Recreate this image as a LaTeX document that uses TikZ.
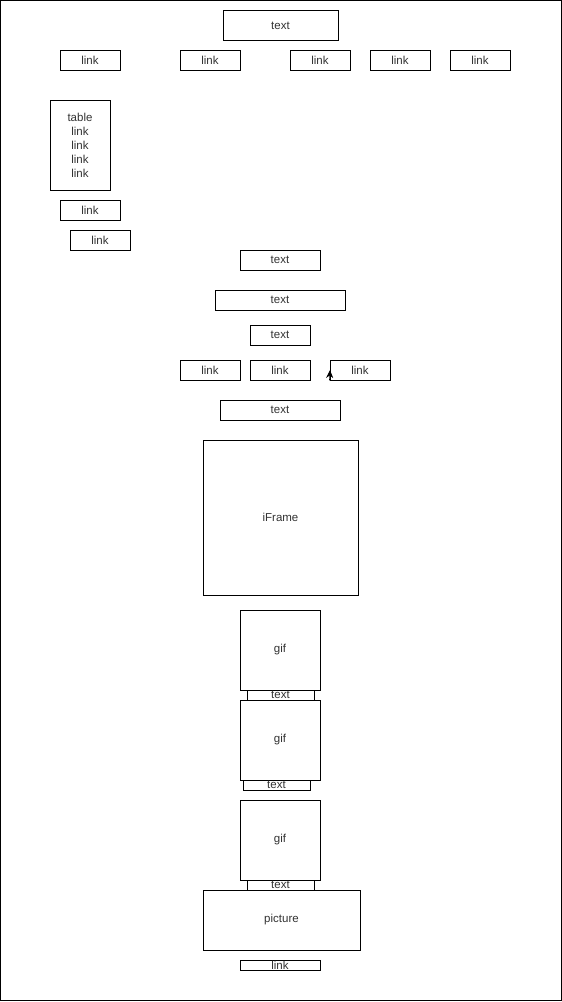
\documentclass[tikz,border=0pt]{standalone}
\usepackage{fontspec}
\setmainfont{Liberation Sans}
\usetikzlibrary{positioning, arrows.meta, calc}
\tikzset{
  mockup/.style={
	x=1pt, y=-1pt, % one unit per pixel, y grows downwards
	line width=0.8pt,
	>={Stealth[length=8pt, width=7pt]}, % small filled arrow head
  },
  box/.style={draw, fill=white, inner sep=0pt, font=\fontsize{11.5}{14}\selectfont, text=black!80, align=center}, % every element of the page
  linkbox/.style={box, minimum width=60pt, minimum height=20pt}, % the small link buttons
  gifbox/.style={box, minimum width=80pt, minimum height=80pt}, % animated pictures
  captionbox/.style={box, minimum width=67pt, minimum height=10pt}, % caption under a gif
}
\begin{document}
\begin{tikzpicture}[mockup]
	  \useasboundingbox (0,0) rectangle (562,1002);
	  \node[box, minimum width=561pt, minimum height=1000pt] (page) at (280.5,500.5) {};

	  % header
	  \node[box, minimum width=115pt, minimum height=30pt] (title) at (280.5,25.5) {text};
	  \node[linkbox] (nav1) at (90,60) {link};
	  \node[linkbox] (nav2) at (210,60) {link};
	  \node[linkbox] (nav3) at (320,60) {link};
	  \node[linkbox] (nav4) at (400,60) {link};
	  \node[linkbox] (nav5) at (480,60) {link};

	  % side menu
	  \node[box, minimum width=60pt, minimum height=90pt] (table) at (80,145) {table\\link\\link\\link\\link};
	  \node[linkbox] (side1) at (90,210) {link};
	  \node[linkbox] (side2) at (100,240) {link};

	  % content
	  \node[box, minimum width=80pt, minimum height=20pt] (text1) at (280,260) {text};
	  \node[box, minimum width=130pt, minimum height=20pt] (text2) at (280,300) {text};
	  \node[box, minimum width=60pt, minimum height=20pt] (text3) at (280,335) {text};
	  \node[linkbox] (body1) at (210,370) {link};
	  \node[linkbox] (body2) at (280,370) {link};
	  \node[linkbox] (body3) at (360,370) {link};
	  \node[box, minimum width=120pt, minimum height=20pt] (text4) at (280,410) {text};
	  \node[box, minimum width=155pt, minimum height=155pt] (iframe) at (280.5,517.5) {iFrame};

	  \coordinate (tip) at (330,370);
	  \draw[->] (body3.south west) -- (tip);

	  % gifs with captions
	  \node[gifbox] (gif1) at (280,650) {gif};
	  \node[captionbox] (cap1) at (280.5,695) {text};
	  \node[gifbox] (gif2) at (280,740) {gif};
	  \node[captionbox] (cap2) at (276.5,785) {text};
	  \node[gifbox] (gif3) at (280,840) {gif};
	  \node[captionbox] (cap3) at (280.5,885) {text};
	  \node[box, minimum width=157pt, minimum height=60pt] (picture) at (281.5,920) {picture};
	  \node[box, minimum width=80pt, minimum height=10pt] (footer) at (280,965) {link};
\end{tikzpicture}
\end{document}
